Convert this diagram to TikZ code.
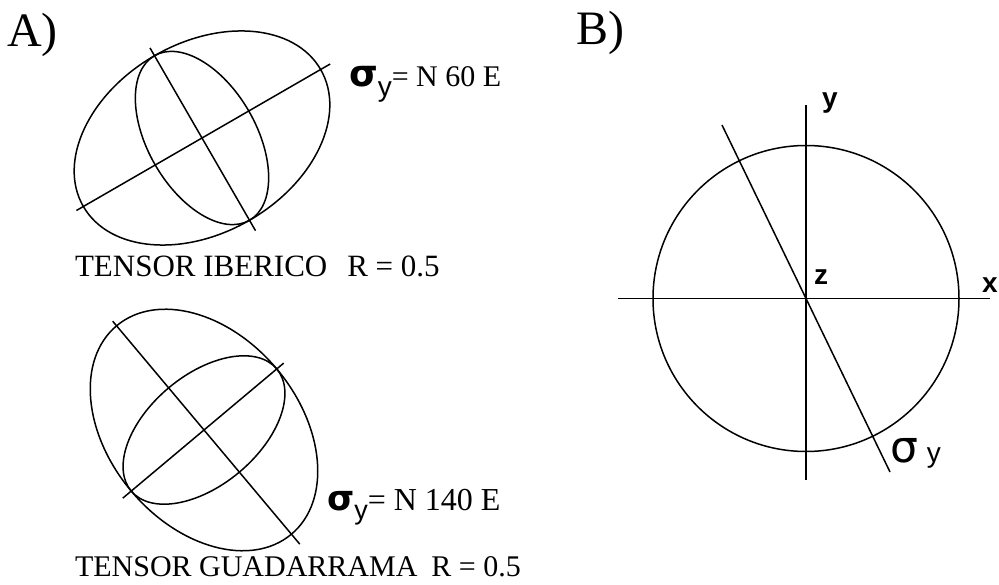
\documentclass[tikz,border=0pt]{standalone}
\usepackage{fontspec}
\setmainfont{Liberation Serif}
\newfontfamily\sansf{Liberation Sans}
\newfontfamily\greekf{DejaVu Sans}
\usetikzlibrary{calc}
\begin{document}
\begin{tikzpicture}[x=1pt,y=1pt,line width=1.5pt,
  lbl/.style={anchor=base west,inner sep=0pt,outer sep=0pt},
  panel/.style={lbl,font=\fontsize{48}{48}\selectfont},
  caption/.style={lbl,font=\fontsize{31}{31}\selectfont},
  axlabel/.style={lbl,font=\sansf\bfseries\fontsize{28}{28}\selectfont},
  stressA/.style={lbl,font=\fontsize{30}{30}\selectfont}]
\useasboundingbox (0,0) rectangle (999,584);

% ---------- Panel A, top (Iberico) ----------
\coordinate (t) at (202,446);
\draw[rotate around={30:(t)}] (t) ellipse [x radius=137,y radius=95];
\draw[rotate around={30:(t)}] (t) ellipse [x radius=54,y radius=95];
\coordinate (t1) at ($(t)+(30:148)$);
\coordinate (t2) at ($(t)+(210:145)$);
\coordinate (t3) at ($(t)+(120:104)$);
\coordinate (t4) at ($(t)+(300:107)$);
\draw (t2) -- (t1);
\draw (t3) -- (t4);

% ---------- Panel A, bottom (Guadarrama) ----------
\coordinate (g) at (204,154);
\draw[rotate around={-50:(g)}] (g) ellipse [x radius=136,y radius=95];
\draw[rotate around={-50:(g)}] (g) ellipse [x radius=55,y radius=95];
\coordinate (g1) at ($(g)+(130:142)$);
\coordinate (g2) at ($(g)+(-50:149)$);
\coordinate (g3) at ($(g)+(40:104)$);
\coordinate (g4) at ($(g)+(220:106)$);
\draw (g1) -- (g2);
\draw (g4) -- (g3);

% ---------- Panel B ----------
\coordinate (o) at (806,285.5);
\draw (o) circle [radius=153];
\coordinate (xl) at (618,285.5);
\coordinate (xr) at (990,285.5);
\coordinate (yt) at (806,479);
\coordinate (yb) at (806,104);
\coordinate (st) at (722,459);
\coordinate (sb) at (890,112);
\draw (xl) -- (xr);
\draw (yb) -- (yt);
\draw (st) -- (sb);

% ---------- Labels ----------
\node[panel] (la) at (7,537) {A)};
\node[panel] (lb) at (576,539) {B)};

\node[stressA] (s1) at (349,497) {{\greekf\bfseries\fontsize{37}{37}\selectfont σ}\raisebox{-9.5pt}{\sansf\fontsize{28}{28}\selectfont y}= N 60 E};
\node[stressA,font=\fontsize{32}{32}\selectfont] (s2) at (327,74) {{\greekf\bfseries\fontsize{35}{35}\selectfont σ}\raisebox{-9.5pt}{\sansf\fontsize{27}{27}\selectfont y}= N 140 E};

\node[caption] (c1) at (75,307) {TENSOR IBERICO\hspace{20pt}R = 0.5};
\node[caption,font=\fontsize{30}{30}\selectfont] (c2) at (75,8) {TENSOR GUADARRAMA\hspace{14pt}R = 0.5};

\node[axlabel] (ly) at (822,476.5) {y};
\node[axlabel] (lz) at (814,299) {z};
\node[axlabel] (lx) at (982,291) {x};
\node[lbl] (ls) at (890,121) {{\greekf\fontsize{44}{44}\selectfont σ}\hspace{9pt}{\sansf\fontsize{28}{28}\selectfont y}};
\end{tikzpicture}
\end{document}
